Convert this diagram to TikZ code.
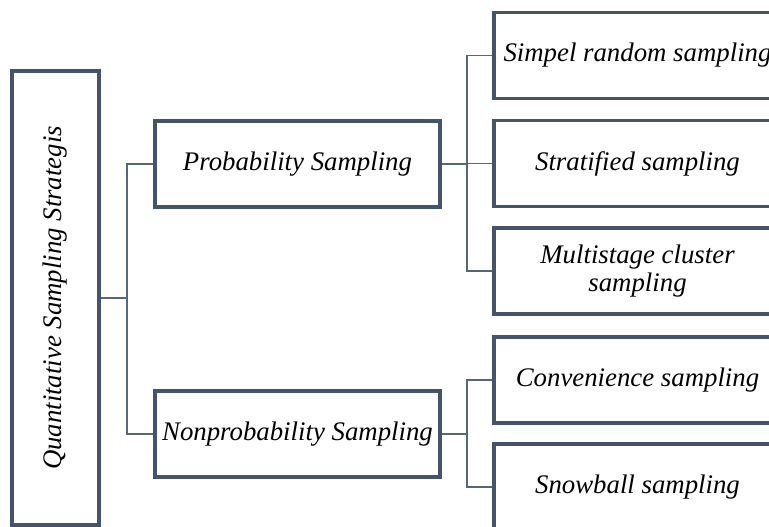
\documentclass[tikz,border=0pt]{standalone}
\usepackage{fontspec}
\setmainfont{Liberation Serif}
\usepackage{tikz}
\usetikzlibrary{positioning}
\definecolor{slate}{HTML}{44546A}
\definecolor{slatelight}{HTML}{56667C}
\tikzset{
  sbox/.style={draw=slate, line width=1.6pt, fill=white, inner sep=1pt,
    font=\fontsize{13.4}{14}\selectfont\itshape, align=center,
    minimum width=143.5pt, minimum height=43pt},
  link/.style={draw=slatelight, line width=0.9pt}
}

\begin{document}
\begin{tikzpicture}[x=0.5pt,y=0.5pt]
\useasboundingbox (0,0) rectangle (769,526);

\node[sbox, rotate=90, minimum width=227pt, minimum height=43.5pt] (strat) at (55.5,228) {Quantitative Sampling Strategis};

\node[sbox, minimum width=142.5pt] (prob) at (297.5,362) {Probability Sampling};
\node[sbox, minimum width=142.5pt] (nonprob) at (297.5,92) {Nonprobability Sampling};

\node[sbox] (simple) at (637.5,470.5) {Simpel random sampling};
\node[sbox] (strati) at (637.5,362.5) {Stratified sampling};
\node[sbox] (multi) at (637.5,255) {Multistage cluster\\sampling};
\node[sbox] (conv) at (637.5,146) {Convenience sampling};
\node[sbox] (snow) at (637.5,39) {Snowball sampling};

\coordinate (j0) at (127,228);
\coordinate (j1) at (467,362);
\coordinate (j2) at (467,92);

\path[link] (strat.south) -- (j0)
            (j0) |- (prob.west)
            (j0) |- (nonprob.west);
\path[link] (prob.east) -- (j1)
            (j1) |- (simple.west)
            (j1) |- (strati.west)
            (j1) |- (multi.west);
\path[link] (nonprob.east) -- (j2)
            (j2) |- (conv.west)
            (j2) |- (snow.west);
\end{tikzpicture}
\end{document}
